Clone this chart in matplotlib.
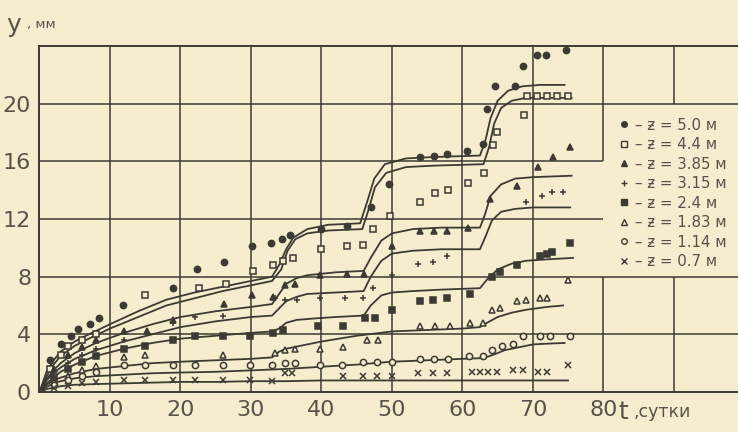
import matplotlib
matplotlib.use("Agg")
import matplotlib.pyplot as plt
from matplotlib.lines import Line2D

# depth labels (z, m)
depths = ["5.0", "4.4", "3.85", "3.15", "2.4", "1.83", "1.14", "0.7"]
markers = ["o", "s", "^", "+", "s", "^", "o", "x"]
filled = [True, False, True, False, True, False, False, False]

# measured points, t (days) / y (mm)
t_a = [1.5, 3, 4.5, 5.5, 7.2, 8.4, 11.9, 19, 22.3, 26.2, 30.1, 32.9, 34.4, 35.5, 40, 43.6, 47, 49.6, 54, 56, 57.8, 60.6, 62.9, 63.5, 64.6, 67.4, 68.6, 70.6, 71.9, 74.7]
y_a = [2.2, 3.3, 3.9, 4.4, 4.7, 5.1, 6.0, 7.2, 8.5, 9.0, 10.1, 10.3, 10.6, 10.9, 11.3, 11.5, 12.8, 14.4, 16.3, 16.4, 16.5, 16.7, 17.2, 19.6, 21.2, 21.2, 22.6, 23.4, 23.4, 23.7]
t_b = [1.5, 3, 4, 6, 8, 15, 22.7, 26.5, 30.3, 33.2, 34.5, 36, 40, 43.6, 45.9, 47.3, 49.7, 54, 56.1, 58, 60.8, 63, 64.3, 64.9, 68.7, 69.2, 70.6, 72, 73.4, 75]
y_b = [1.6, 2.6, 3.2, 3.6, 4.0, 6.7, 7.2, 7.5, 8.4, 8.8, 9.1, 9.3, 9.9, 10.1, 10.2, 11.3, 12.2, 13.2, 13.8, 14.0, 14.5, 15.2, 17.1, 18.0, 19.2, 20.5, 20.5, 20.5, 20.5, 20.5]
t_c = [2, 4, 6, 8, 12, 15.2, 19, 26.2, 30.2, 33.1, 34.8, 36.2, 39.8, 43.6, 46, 50, 54, 56, 57.8, 60.8, 63.9, 67.7, 70.7, 72.8, 75.3]
y_c = [1.6, 2.6, 3.1, 3.6, 4.2, 4.2, 5.0, 6.1, 6.7, 6.6, 7.4, 7.5, 8.1, 8.2, 8.2, 10.1, 11.2, 11.2, 11.2, 11.4, 13.4, 14.3, 15.6, 16.3, 17.0]
t_d = [2, 4, 6, 8, 12, 19, 22, 26, 33.4, 34.8, 36.5, 39.8, 43.3, 45.9, 47.3, 50, 53.7, 55.8, 57.8, 69.1, 71.3, 72.7, 74.3]
y_d = [1.3, 2.0, 2.6, 3.0, 3.6, 4.8, 5.2, 5.3, 6.5, 6.4, 6.4, 6.5, 6.5, 6.5, 7.2, 8.1, 8.9, 9.0, 9.4, 13.2, 13.6, 13.9, 13.9]
t_e = [2, 4, 6, 8, 12, 15, 19, 22.1, 26, 29.9, 33.1, 34.5, 39.5, 43.1, 46.2, 47.6, 50, 54, 55.9, 57.8, 61.1, 64.2, 65.3, 67.7, 71, 72, 72.7, 75.3]
y_e = [1.0, 1.6, 2.1, 2.5, 3.0, 3.2, 3.6, 3.9, 3.9, 3.9, 4.1, 4.3, 4.6, 4.6, 5.1, 5.1, 5.7, 6.3, 6.4, 6.5, 6.8, 8.0, 8.3, 8.8, 9.4, 9.6, 9.7, 10.3]
t_f = [2, 4, 6, 8, 12, 15, 26.1, 33.4, 34.8, 36.2, 39.8, 43, 46.5, 48, 54, 56.1, 58.2, 61.1, 62.9, 64.2, 65.3, 67.7, 69.1, 71, 72, 75]
y_f = [0.7, 1.1, 1.5, 1.8, 2.4, 2.6, 2.6, 2.7, 2.9, 3.0, 3.0, 3.1, 3.6, 3.6, 4.6, 4.6, 4.6, 4.8, 4.8, 5.7, 5.8, 6.3, 6.4, 6.5, 6.5, 7.8]
t_g = [2, 4, 6, 8, 12, 15, 19, 22.1, 26, 29.9, 33, 34.8, 36.2, 39.8, 42.9, 45.9, 47.9, 50, 54, 56, 57.9, 61, 62.9, 64.2, 65.6, 67.2, 68.6, 71, 72.4, 75.3]
y_g = [0.5, 0.8, 1.1, 1.4, 1.9, 1.9, 1.9, 1.9, 1.9, 1.9, 1.9, 2.0, 2.0, 1.9, 1.9, 2.1, 2.1, 2.1, 2.3, 2.3, 2.3, 2.5, 2.5, 2.9, 3.2, 3.3, 3.9, 3.9, 3.9, 3.9]
t_h = [2, 4, 6, 8, 12, 15, 19, 22.1, 26, 29.9, 33, 34.8, 35.8, 43, 45.9, 47.9, 50, 53.7, 55.9, 57.8, 61.4, 62.5, 63.6, 64.9, 67.2, 68.6, 70.7, 72, 75]
y_h = [0.3, 0.4, 0.6, 0.7, 0.8, 0.8, 0.8, 0.8, 0.8, 0.8, 0.75, 1.3, 1.3, 1.1, 1.1, 1.1, 1.1, 1.3, 1.3, 1.3, 1.4, 1.4, 1.4, 1.4, 1.5, 1.5, 1.4, 1.4, 1.9]

# fitted curves
ct_a = [0, 1, 2, 3, 5, 7, 10, 14, 18, 22, 26, 30, 33, 34, 35, 36, 38, 41, 45.5, 46.5, 47.5, 49, 52, 56, 62.5, 63.3, 64, 65, 66.5, 68.5, 71, 74.5]
cy_a = [0, 1.4, 2.2, 2.8, 3.5, 4.0, 4.7, 5.6, 6.4, 6.9, 7.3, 7.7, 8.0, 8.8, 9.9, 10.7, 11.3, 11.6, 11.7, 13.2, 14.8, 15.8, 16.2, 16.3, 16.4, 17.5, 19.0, 20.2, 20.9, 21.2, 21.3, 21.3]
ct_b = [0, 1, 2, 3, 5, 7, 10, 14, 18, 22, 26, 30, 33, 34.3, 35.2, 36.3, 38, 41, 45.8, 46.6, 47.6, 49.2, 52, 56, 63, 63.8, 64.5, 65.5, 67, 69, 72, 75.5]
cy_b = [0, 1.1, 1.9, 2.5, 3.2, 3.7, 4.4, 5.2, 6.0, 6.5, 7.0, 7.4, 7.7, 8.5, 9.8, 10.6, 11.0, 11.2, 11.3, 12.5, 14.2, 15.2, 15.6, 15.7, 15.8, 17.0, 18.6, 19.7, 20.2, 20.4, 20.4, 20.4]
ct_c = [0, 1, 2, 3, 5, 8, 12, 16, 20, 25, 30, 33, 34, 35, 36.5, 38, 42, 46, 47, 48.5, 50, 53, 57, 62.5, 63.2, 64, 65.5, 67.5, 70, 75.5]
cy_c = [0, 0.9, 1.5, 2.0, 2.7, 3.4, 4.1, 4.7, 5.2, 5.6, 5.9, 6.1, 6.8, 7.5, 7.9, 8.1, 8.3, 8.4, 9.3, 10.5, 11.0, 11.3, 11.4, 11.4, 12.3, 13.6, 14.4, 14.8, 14.9, 15.0]
ct_d = [0, 1, 2, 3, 5, 8, 12, 16, 20, 25, 30, 33, 34, 35, 36.5, 38, 42, 46, 47, 48.5, 50, 53, 57, 62.5, 63.3, 64.2, 65.5, 67.5, 70, 75.3]
cy_d = [0, 0.8, 1.3, 1.7, 2.3, 2.9, 3.5, 4.0, 4.5, 4.9, 5.2, 5.3, 5.8, 6.3, 6.6, 6.8, 6.9, 7.0, 8.0, 9.1, 9.6, 9.8, 9.9, 9.9, 10.8, 11.9, 12.5, 12.7, 12.8, 12.8]
ct_e = [0, 1, 2, 3, 5, 8, 12, 16, 20, 25, 30, 33, 34, 35, 36.5, 39, 42, 46, 47, 48.5, 50, 53, 57, 62.5, 63.5, 65, 67, 69, 72, 75.7]
cy_e = [0, 0.6, 1.0, 1.4, 1.9, 2.5, 3.0, 3.4, 3.7, 3.9, 4.1, 4.2, 4.4, 4.8, 5.0, 5.1, 5.2, 5.3, 6.0, 6.7, 6.9, 7.0, 7.1, 7.2, 7.8, 8.5, 8.9, 9.1, 9.2, 9.3]
ct_f = [0, 1, 2, 3, 5, 8, 12, 16, 20, 25, 30, 33, 34, 35, 37, 40, 45, 50, 55, 60, 62.5, 63.5, 65, 67, 69, 72, 74.3]
cy_f = [0, 0.5, 0.8, 1.0, 1.3, 1.6, 1.8, 2.0, 2.1, 2.2, 2.3, 2.4, 2.8, 3.0, 3.2, 3.5, 3.9, 4.2, 4.3, 4.4, 4.5, 4.8, 5.2, 5.5, 5.7, 5.9, 6.0]
ct_g = [0, 1, 2, 3, 5, 8, 12, 16, 20, 25, 30, 35, 40, 45, 50, 55, 60, 63, 64.5, 66, 68, 70, 72, 74.5]
cy_g = [0, 0.35, 0.6, 0.75, 0.95, 1.1, 1.2, 1.3, 1.35, 1.4, 1.5, 1.6, 1.75, 1.9, 2.1, 2.2, 2.3, 2.35, 2.6, 2.9, 3.1, 3.3, 3.35, 3.4]
ct_h = [0, 1, 2, 3, 5, 8, 12, 16, 20, 25, 30, 35, 40, 45, 50, 55, 60, 65, 70, 75]
cy_h = [0, 0.2, 0.3, 0.4, 0.5, 0.55, 0.6, 0.65, 0.7, 0.7, 0.75, 0.75, 0.8, 0.8, 0.8, 0.8, 0.8, 0.8, 0.8, 0.8]

x_ticks = [10, 20, 30, 40, 50, 60, 70, 80]
y_ticks = [0, 4, 8, 12, 16, 20]

points = [(t_a, y_a), (t_b, y_b), (t_c, y_c), (t_d, y_d),
          (t_e, y_e), (t_f, y_f), (t_g, y_g), (t_h, y_h)]
curves = [(ct_a, cy_a), (ct_b, cy_b), (ct_c, cy_c), (ct_d, cy_d),
          (ct_e, cy_e), (ct_f, cy_f), (ct_g, cy_g), (ct_h, cy_h)]

paper = "#f6edcf"
ink = "#3c3a33"
txt_c = "#57534a"

fig = plt.figure(figsize=(7.38, 4.32), dpi=100, facecolor=paper)
ax = fig.add_axes([0.0535, 0.0926, 0.955, 0.801], facecolor=paper)
ax.set_xlim(0, 100)
ax.set_ylim(0, 24)

# grid with the gap where the legend sits
gl = dict(color=ink, lw=1.1, zorder=1)
ax.vlines([10, 20, 30, 40, 50, 60, 70], 0, 24, **gl)
ax.vlines([80, 90], 0, 8, **gl)
ax.vlines(80, 16, 24, **gl)
ax.vlines(90, 20, 24, **gl)
ax.hlines([4, 8, 20], 0, 100, **gl)
ax.hlines([12, 16], 0, 80, **gl)

for (ct, cy) in curves:
    ax.plot(ct, cy, color=ink, lw=1.3, zorder=2)

for i, (pt, py) in enumerate(points):
    ax.plot(pt, py, ls="none", marker=markers[i], ms=4.5, mew=1.1,
            mec=ink, mfc=ink if filled[i] else paper, zorder=3)

ax.spines["right"].set_visible(False)
for s in ["left", "top", "bottom"]:
    ax.spines[s].set_color(ink)
    ax.spines[s].set_linewidth(1.4)

ax.set_xticks(x_ticks)
ax.set_yticks(y_ticks)
ax.tick_params(length=0, colors=txt_c, labelsize=16, pad=6)

fig.text(0.008, 0.925, "у", fontsize=18, color=txt_c)
fig.text(0.036, 0.935, ", мм", fontsize=9.5, color=txt_c)
fig.text(0.838, 0.03, "t", fontsize=18, color=txt_c)
fig.text(0.858, 0.035, ",сутки", fontsize=12.5, color=txt_c)

handles = [Line2D([], [], ls="none", marker=markers[i], ms=4, mew=1,
                  mec=ink, mfc=ink if filled[i] else paper) for i in range(8)]
labels = ["– ƶ = " + d + " м" for d in depths]
leg = ax.legend(handles, labels, loc="upper left", bbox_to_anchor=(0.815, 0.81),
                frameon=False, handlelength=0.6, handletextpad=0.4,
                labelspacing=0.3, fontsize=10.8, borderaxespad=0)
for txt in leg.get_texts():
    txt.set_color(txt_c)

fig.savefig("out.png", dpi=100, facecolor=paper)
